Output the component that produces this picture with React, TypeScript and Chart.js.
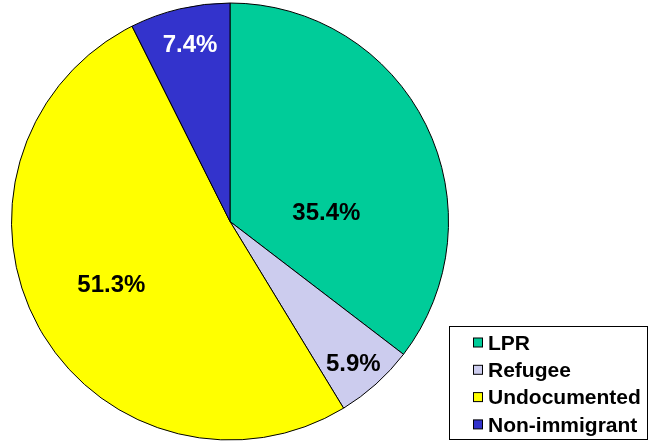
import React, { useEffect, useRef } from "react";
import { Chart, registerables } from "chart.js";

Chart.register(...registerables);

const categories = ["LPR", "Refugee", "Undocumented", "Non-immigrant"];
const shares = [35.4, 5.9, 51.3, 7.4];
const sliceColors = ["#00CC99", "#CCCCEE", "#FFFF00", "#3333CC"];
const labelColors = ["#000000", "#000000", "#000000", "#FFFFFF"];
// label anchor offsets, as fractions of the pie radius from its centre
const labelOffsetX = [0.441, 0.564, -0.543, -0.183];
const labelOffsetY = [-0.043, 0.651, 0.288, -0.811];

const FONT = "'Liberation Sans', Arial, sans-serif";

const labelPlugin = {
  id: "pctLabels",
  afterDatasetsDraw(chart: any) {
    const ctx = chart.ctx;
    const meta = chart.getDatasetMeta(0);
    ctx.save();
    ctx.font = `bold 24px ${FONT}`;
    ctx.textAlign = "center";
    ctx.textBaseline = "middle";
    meta.data.forEach((arc: any, i: number) => {
      const r = arc.outerRadius;
      const x = arc.x + labelOffsetX[i] * r;
      const y = arc.y + labelOffsetY[i] * r;
      ctx.fillStyle = labelColors[i];
      ctx.fillText(shares[i].toFixed(1) + "%", x, y + 1);
    });
    ctx.restore();
  },
};

const legendPlugin = {
  id: "boxLegend",
  afterDraw(chart: any) {
    const ctx = chart.ctx;
    const left = 449.5;
    const top = 326.5;
    const w = 198;
    const h = 113;
    ctx.save();
    ctx.fillStyle = "#FFFFFF";
    ctx.fillRect(left, top, w, h);
    ctx.strokeStyle = "#000000";
    ctx.lineWidth = 1;
    ctx.strokeRect(left, top, w, h);
    ctx.font = `bold 21px ${FONT}`;
    ctx.textAlign = "left";
    ctx.textBaseline = "middle";
    categories.forEach((c, i) => {
      const cy = 343 + i * 27.3;
      ctx.fillStyle = sliceColors[i];
      ctx.fillRect(473.5, cy - 5, 9, 9);
      ctx.strokeStyle = "#000000";
      ctx.strokeRect(473.5, cy - 5, 9, 9);
      ctx.fillStyle = "#000000";
      ctx.fillText(c, 488, cy + 1);
    });
    ctx.restore();
  },
};

export default function App() {
  const ref = useRef<HTMLCanvasElement>(null);
  useEffect(() => {
    if (!ref.current) return;
    const chart = new Chart(ref.current, {
      type: "pie",
      data: {
        labels: categories,
        datasets: [
          {
            data: shares,
            backgroundColor: sliceColors,
            borderColor: "#000000",
            borderWidth: 1,
          },
        ],
      },
      options: {
        animation: false,
        responsive: false,
        maintainAspectRatio: false,
        layout: { padding: { left: 11, right: 201, top: 2.5, bottom: 1.5 } },
        plugins: {
          legend: { display: false },
          tooltip: { enabled: false },
        },
      },
      plugins: [labelPlugin, legendPlugin],
    });
    return () => chart.destroy();
  }, []);
  return (
    <div style={{ position: "fixed", left: 0, top: 0, width: 650, height: 442, background: "#fff" }}>
      <canvas ref={ref} width={650} height={442} style={{ width: 650, height: 442 }} />
    </div>
  );
}
